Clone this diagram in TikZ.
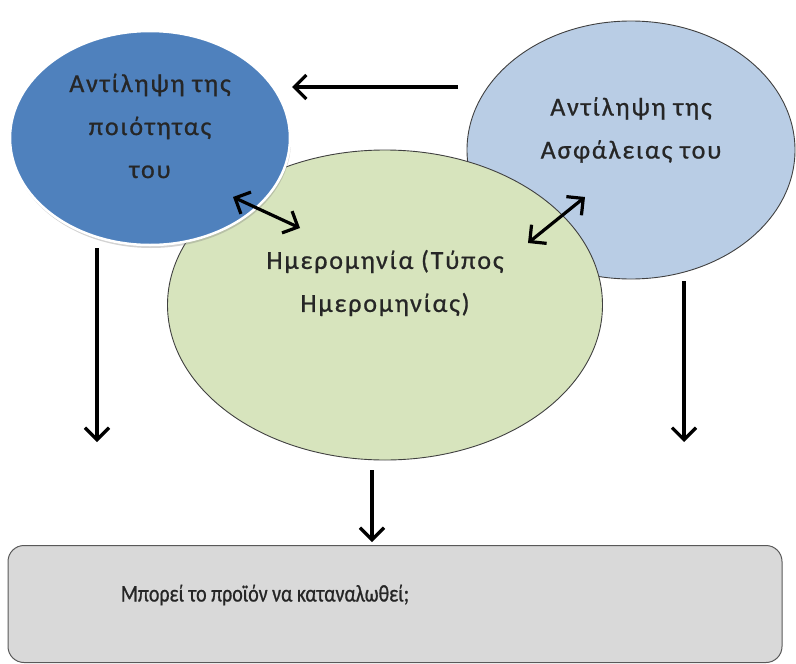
\documentclass[tikz,border=0pt]{standalone}
\usepackage{fontspec}
\setmainfont{Carlito}
\newfontfamily\blobfont{Carlito}[LetterSpace=7, FakeBold=0.8]
\newfontfamily\questfont{Carlito}[FakeStretch=0.83, FakeBold=0.8]
\usepackage{tikz}
\usetikzlibrary{
  shapes.geometric,%
  arrows.meta,%
  shadows,%
  positioning
}
\definecolor{qualblue}{RGB}{79,129,189}
\definecolor{safeblue}{RGB}{185,205,229}
\definecolor{dategreen}{RGB}{215,228,189}
\definecolor{boxgray}{RGB}{217,217,217}
\tikzset{>={Straight Barb[length=12pt, width=24pt]}}
\tikzset{blob/.style={ellipse, inner sep=0pt, draw=black!75, line width=0.9pt}}
\tikzset{blobtext/.style={align=center, font=\blobfont\fontsize{26}{43}\selectfont, text=black!85}}
\tikzset{link/.style={->, line width=3.2pt}}

\begin{document}
\begin{tikzpicture}[x=1pt, y=-1pt]
  \useasboundingbox (0,0) rectangle (796,664); %
  % the three ellipses, back to front
  \node[blob, fill=safeblue, minimum width=328, minimum height=258] (safe) at (631,150) {}; %
  \node[blob, fill=dategreen, minimum width=435, minimum height=310] (date) at (385,305) {}; %
  \node[blob, fill=qualblue, draw=white, line width=2.5pt, minimum width=280, minimum height=214,
    drop shadow={opacity=0.35, shadow xshift=1pt, shadow yshift=-3pt}] (qual) at (150,138) {}; %
  \node[blobtext] (safetxt) at ([shift={(0,-20)}]safe.center) {Αντίληψη της\\Ασφάλειας του}; %
  \node[blobtext] (datetxt) at ([shift={(0,-22)}]date.center) {Ημερομηνία (Τύπος\\Ημερομηνίας)}; %
  \node[blobtext] (qualtxt) at ([shift={(0,-12)}]qual.center) {Αντίληψη της\\ποιότητας\\του}; %
  % the question box
  \node[draw=black!65, line width=1pt, fill=boxgray, rounded corners=16pt,
    minimum width=774, minimum height=117] (quest) at (395,604) {}; %
  \node[font=\questfont\fontsize{24}{26}\selectfont, text=black!85] (questtxt) at (265,595) {Μπορεί το προϊόν να καταναλωθεί;}; %
  % free ends of the arrows
  \coordinate (qualend) at (97,442); %
  \coordinate (safeend) at (684,442); %
  % arrows
  \draw[link] ([shift={(-173,-63)}]safe.center) -- ([shift={(142,-51)}]qual.center); %
  \draw[link, <->] ([shift={(83,59)}]qual.center) -- ([shift={(-85,-77)}]date.center); %
  \draw[link, <->] ([shift={(-46,47)}]safe.center) -- ([shift={(143,-62)}]date.center); %
  \draw[link] ([shift={(-53,110)}]qual.center) -- (qualend); %
  \draw[link] ([shift={(53,131)}]safe.center) -- (safeend); %
  \draw[link] ([shift={(-13,165)}]date.center) -- ([shift={(-23,-62)}]quest.center); %
\end{tikzpicture}
\end{document}
